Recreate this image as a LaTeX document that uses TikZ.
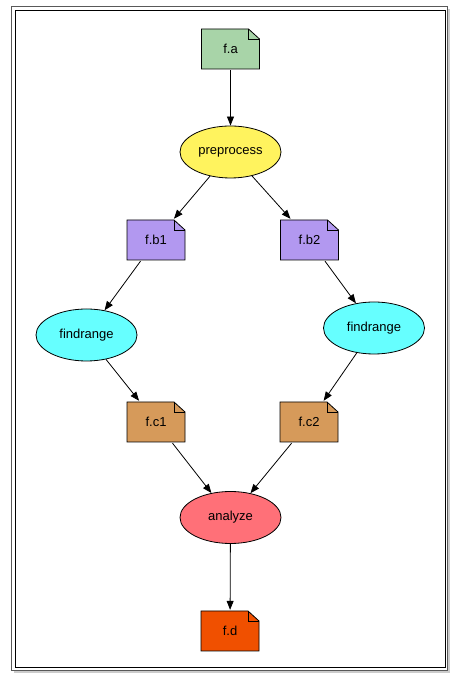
\documentclass[tikz,border=0pt]{standalone}
\usepackage{fontspec}
\setmainfont{Liberation Sans}
\usetikzlibrary{positioning,shapes.geometric,arrows.meta,shadows}
\definecolor{filea}{RGB}{168,212,168}
\definecolor{fileb}{RGB}{178,152,240}
\definecolor{filec}{RGB}{214,154,90}
\definecolor{filed}{RGB}{240,80,0}
\definecolor{prepcol}{RGB}{255,243,94}
\definecolor{findcol}{RGB}{102,255,255}
\definecolor{anacol}{RGB}{255,112,120}
\tikzset{
	datafile/.style={minimum width=60, minimum height=42, inner sep=0pt,
		path picture={
			\draw[fill=#1, line width=0.8pt]
				([xshift=1pt,yshift=1pt]path picture bounding box.south west)
				-- ([xshift=-1pt,yshift=1pt]path picture bounding box.south east)
				-- ([xshift=-1pt,yshift=-11pt]path picture bounding box.north east)
				-- ([xshift=-12pt,yshift=-1pt]path picture bounding box.north east)
				-- ([xshift=1pt,yshift=-1pt]path picture bounding box.north west)
				-- cycle;
			\draw[line width=0.8pt]
				([xshift=-12pt,yshift=-1pt]path picture bounding box.north east)
				-- ([xshift=-12pt,yshift=-11pt]path picture bounding box.north east)
				-- ([xshift=-1pt,yshift=-11pt]path picture bounding box.north east);
		}},
	job/.style={ellipse, draw, line width=0.8pt, fill=#1, inner sep=0pt,
		minimum width=101, minimum height=52}
}
\begin{document}
\begin{tikzpicture}[x=1pt, y=1pt, font=\fontsize{13}{15}\selectfont]
		\useasboundingbox (0,0) rectangle (459,687);
		% frame
		\draw[draw=black!65, line width=1pt, fill=white,
			drop shadow={shadow xshift=2pt, shadow yshift=-3pt, opacity=0.4}]
			(11.5,16.5) rectangle (447.5,680.5);
		\draw[line width=1pt] (15,19.5) rectangle (445,676.5);
		% files
		\node[datafile=filea] (fa) at (230.5,638) {f.a};
		\node[datafile=fileb] (fb1) at (156,447) {f.b1};
		\node[datafile=fileb] (fb2) at (309.5,447) {f.b2};
		\node[datafile=filec] (fc1) at (156,265) {f.c1};
		\node[datafile=filec] (fc2) at (309,265) {f.c2};
		\node[datafile=filed] (fd) at (230,56) {f.d};
		% jobs
		\node[job=prepcol] (prep) at (230.5,535) {preprocess};
		\node[job=findcol] (find1) at (86.5,352) {findrange};
		\node[job=findcol] (find2) at (374,359) {findrange};
		\node[job=anacol] (ana) at (230.5,169.5) {analyze};
		\begin{scope}[every path/.style={line width=0.8pt,-{Triangle[length=9pt,width=7pt]}}]
			\path (fa) edge (prep);
			\path (prep)
				edge (fb1)
				edge (fb2);
			\path (fb1) edge (find1);
			\path (fb2) edge (find2);
			\path (find1) edge (fc1);
			\path (find2) edge (fc2);
			\path (fc1) edge (ana);
			\path (fc2) edge (ana);
			\path (ana) edge (fd);
		\end{scope}
	\end{tikzpicture}
\end{document}
